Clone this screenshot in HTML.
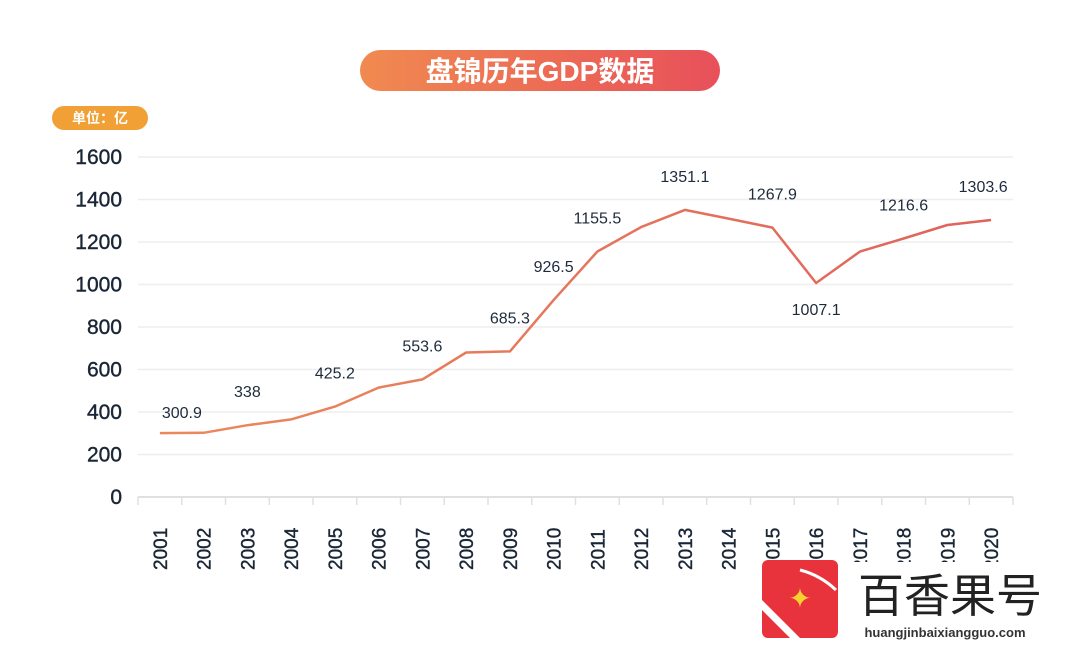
<!DOCTYPE html>
<html><head><meta charset="utf-8"><style>
body{margin:0;background:#fff;width:1080px;height:648px;overflow:hidden;font-family:"Liberation Sans","Noto Sans CJK SC",sans-serif}
</style></head><body>
<svg width="1080" height="648" viewBox="0 0 1080 648">
<defs>
<linearGradient id="tg" x1="0" x2="1"><stop offset="0" stop-color="#f08a50"/><stop offset="1" stop-color="#e8505a"/></linearGradient>
<linearGradient id="lg" x1="0" x2="1"><stop offset="0" stop-color="#ea8a5c"/><stop offset="1" stop-color="#e0625c"/></linearGradient>
</defs>
<g>
<rect x="360" y="50" width="360" height="41" rx="20.5" fill="url(#tg)"/>
<text x="540" y="81" text-anchor="middle" font-size="28" font-weight="bold" fill="#fff">盘锦历年GDP数据</text>
</g>
<g>
<rect x="52" y="106" width="96" height="24" rx="12" fill="#f0a034"/>
<text x="100" y="123" text-anchor="middle" font-size="14" font-weight="bold" fill="#fff">单位：亿</text>
</g>
<g id="grid"></g>
<g id="yt"></g>
<g id="xt"></g>
<path id="line" fill="none" stroke="url(#lg)" stroke-width="2.5" stroke-linejoin="round"/>
<g id="lbl"></g>
<g>
<rect x="850" y="562" width="200" height="85" fill="#fff"/>
<rect x="762" y="560" width="76" height="78" rx="6" fill="#e8323c"/>
<path d="M762 600 L800 638 L790 638 L762 610Z" fill="#fff"/>
<path d="M800 570 Q820 575 836 590" stroke="#fff" stroke-width="3" fill="none"/>
<text x="800" y="608" text-anchor="middle" font-size="28" fill="#f8d030">✦</text>
<text x="950" y="612" text-anchor="middle" font-size="46" fill="#222">百香果号</text>
<text x="945" y="637" text-anchor="middle" font-size="13" font-weight="bold" fill="#333">huangjinbaixiangguo.com</text>
</g>
</svg>
<script>
const years=["2001","2002","2003","2004","2005","2006","2007","2008","2009","2010","2011","2012","2013","2014","2015","2016","2017","2018","2019","2020"];
const gdp=[300.9,302,338,365,425.2,515,553.6,680,685.3,926.5,1155.5,1270,1351.1,1310,1267.9,1007.1,1155,1216.6,1280,1303.6];
const shownLabels=["300.9","","338","","425.2","","553.6","","685.3","926.5","1155.5","","1351.1","","1267.9","1007.1","","1216.6","","1303.6"];
const yTicks=[0,200,400,600,800,1000,1200,1400,1600];
const NS="http://www.w3.org/2000/svg";
const x0=138,x1=1013,y0=497,y1=157,yMax=1600;
const bw=(x1-x0)/years.length;
const X=i=>x0+bw*(i+0.5);
const Y=v=>y0-(v/yMax)*(y0-y1);
function mk(t,a,p){const e=document.createElementNS(NS,t);for(const k in a)e.setAttribute(k,a[k]);p.appendChild(e);return e;}
const grid=document.getElementById('grid'),yt=document.getElementById('yt'),xt=document.getElementById('xt'),lbl=document.getElementById('lbl');
yTicks.forEach(v=>{
 const l=mk('line',{x1:x0,x2:x1,y1:Y(v),y2:Y(v),stroke:v===0?'#e0e0e0':'#eeeeee','stroke-width':v===0?2:1.5},grid);
 
 
 const t=mk('text',{x:122,y:Y(v)+7,'text-anchor':'end','font-size':21,fill:'#1a2636',stroke:'#1a2636','stroke-width':0.4},yt);
 t.textContent=v;
 
 
});
for(let i=0;i<=years.length;i++){
 const l=mk('line',{x1:x0+bw*i,x2:x0+bw*i,y1:y0,y2:y0+8,stroke:'#e0e0e0','stroke-width':1.5},xt);
 
 
}
years.forEach((y,i)=>{
 const t=mk('text',{x:0,y:0,transform:`translate(${X(i)+7},570) rotate(-90)`,'font-size':19,fill:'#1a2636',stroke:'#1a2636','stroke-width':0.4},xt);
 t.textContent=y;
 
 
});
document.getElementById('line').setAttribute('d',gdp.map((v,i)=>(i?'L':'M')+X(i).toFixed(1)+' '+Y(v).toFixed(1)).join(' '));
gdp.forEach((v,i)=>{
 if(!shownLabels[i])return;
 const below=i===15;
 const dx=i===0?22:(i===years.length-1?-8:0);
 const t=mk('text',{x:X(i)+dx,y:below?Y(v)+32:Y(v)-(i===0?15:28),'text-anchor':'middle','font-size':16,fill:'#1e2b3c'},lbl);
 t.textContent=shownLabels[i];
 
 
});
</script>
</body></html>
